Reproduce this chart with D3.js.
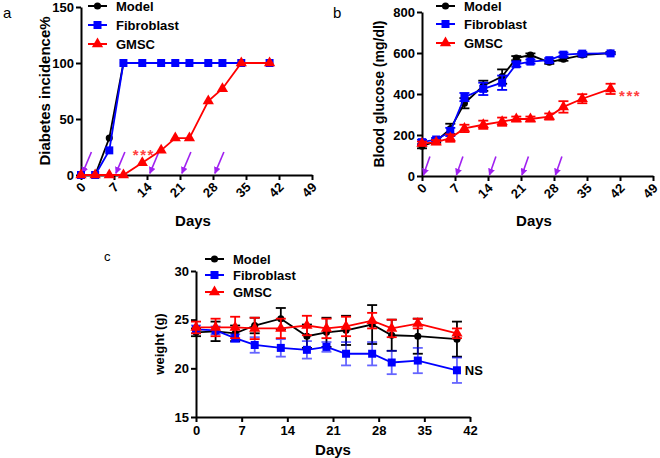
<!DOCTYPE html>
<html><head><meta charset="utf-8">
<script src="https://cdn.jsdelivr.net/npm/d3@7"></script>
<style>body{margin:0;background:#fff}svg{display:block;font-family:"Liberation Sans",Arial,sans-serif;font-weight:bold}</style>
</head><body><svg id="c" width="660" height="458"></svg>
<script>
const series = ["Model","Fibroblast","GMSC"];
const colors = ["#000000","#0000ff","#ff0000"];
const days = [0,3,6,9,13,17,20,23,27,30,34,40];
const xTicksAB = [0,7,14,21,28,35,42,49];
const xTicksC = [0,7,14,21,28,35,42];
// panel a: diabetes incidence %
const incModel = [0,0,33,100,100,100,100,100,100,100,100,100];
const incFibro = [0,0,22,100,100,100,100,100,100,100,100,100];
const incGMSC  = [0,0,0,0,11,22,33,33,66,77,100,100];
const yTicksA = [0,50,100,150];
// panel b: blood glucose
const bgModel = [145,170,230,355,440,485,575,590,555,570,590,600];
const bgModelErr = [10,8,25,25,25,35,10,8,8,8,8,5];
const bgFibro = [165,178,215,385,425,455,545,558,565,592,597,598];
const bgFibroErr = [12,8,20,20,30,35,12,10,10,10,8,5];
const bgGMSC = [158,165,185,232,250,265,278,278,290,337,377,425];
const bgGMSCErr = [10,10,18,18,20,20,12,12,15,28,22,25];
const yTicksB = [0,200,400,600,800];
// panel c: weight
const wModel = [23.7,23.8,23.6,24.4,25.1,23.3,23.7,23.9,24.5,23.4,23.3,23.0];
const wModelErr = [0.4,1.0,0.8,0.8,1.1,1.2,1.5,1.5,2.0,1.6,1.8,1.8];
const wFibro = [24.0,23.9,23.1,22.4,22.1,21.9,22.2,21.5,21.5,20.6,20.8,19.8];
const wFibroErr = [0.4,0.4,0.4,0.8,0.9,0.9,0.5,1.2,1.2,1.2,1.3,1.3];
const wGMSC = [24.2,24.2,24.2,24.1,24.1,24.4,24.1,24.3,24.9,24.1,24.6,23.6];
const wGMSCErr = [0.6,0.9,1.1,1.1,1.0,1.0,1.0,1.0,0.8,0.9,0.5,0.5];
const yTicksC = [15,20,25,30];
// treatment arrows (tip day)
const arrowDaysA = [0.3,7.4,14.6,21.4,28.4];
const arrowDaysB = [0.3,7.3,14.3,21.2,28.3];

const svg = d3.select("#c");
const purple = "#a020f0";
svg.append("defs").append("marker").attr("id","ah").attr("viewBox","0 0 10 10")
  .attr("refX",9).attr("refY",5).attr("markerWidth",7).attr("markerHeight",7)
  .attr("markerUnits","userSpaceOnUse").attr("orient","auto")
  .append("path").attr("d","M0,0L10,5L0,10z").attr("fill",purple);

function symbolFor(i){
  return i===0 ? d3.symbol(d3.symbolCircle,40) : i===1 ? d3.symbol(d3.symbolSquare,64) : d3.symbol(d3.symbolTriangle,55);
}

function axes(g, x, y, xt, yt, rotate, fs){
  const ax = g.append("g").attr("transform",`translate(0,${y.range()[0]})`)
    .call(d3.axisBottom(x).tickValues(xt).tickSize(5).tickSizeOuter(0));
  const ay = g.append("g").attr("transform",`translate(${x.range()[0]},0)`)
    .call(d3.axisLeft(y).tickValues(yt).tickSize(5).tickSizeOuter(0));
  [ax,ay].forEach(a=>{a.select(".domain").attr("stroke","#000").attr("stroke-width",2);
    a.selectAll(".tick line").attr("stroke","#000").attr("stroke-width",2);
    a.selectAll("text").attr("font-size",fs).attr("font-weight","bold").attr("fill","#000")
      .attr("font-family","Liberation Sans, Arial, sans-serif");});
  ay.selectAll("text").attr("x",-7);
  if(rotate){
    ax.selectAll("text").attr("text-anchor","end").attr("dy",0).attr("y",0)
      .attr("transform","translate(5,13) rotate(-45)");
  } else {
    ax.selectAll("text").attr("y",9);
  }
}

function drawSeries(g, x, y, vals, errs, idx, errOpacity){
  const c = colors[idx];
  const pts = days.map((d,i)=>({d, v:vals[i], e: errs? errs[i]:0}));
  if(errs){
    const eg = g.append("g").attr("stroke",c).attr("stroke-width",1.8).attr("opacity",errOpacity||1);
    pts.forEach(p=>{
      const xx = x(p.d);
      eg.append("line").attr("x1",xx).attr("x2",xx).attr("y1",y(p.v-p.e)).attr("y2",y(p.v+p.e));
      eg.append("line").attr("x1",xx-5).attr("x2",xx+5).attr("y1",y(p.v-p.e)).attr("y2",y(p.v-p.e));
      eg.append("line").attr("x1",xx-5).attr("x2",xx+5).attr("y1",y(p.v+p.e)).attr("y2",y(p.v+p.e));
    });
  }
  g.append("path").datum(pts).attr("fill","none").attr("stroke",c).attr("stroke-width",1.8)
    .attr("d",d3.line().x(p=>x(p.d)).y(p=>y(p.v)));
  g.append("g").selectAll("path").data(pts).join("path")
    .attr("transform",p=>`translate(${x(p.d)},${y(p.v)})`).attr("d",symbolFor(idx)).attr("fill",c);
}

function legend(g, x0, ys, fs){
  series.forEach((s,i)=>{
    g.append("line").attr("x1",x0).attr("x2",x0+19).attr("y1",ys[i]).attr("y2",ys[i])
      .attr("stroke",colors[i]).attr("stroke-width",2);
    g.append("path").attr("transform",`translate(${x0+9.5},${ys[i]})`).attr("d",symbolFor(i)).attr("fill",colors[i]);
    g.append("text").attr("x",x0+28).attr("y",ys[i]).attr("dy","0.35em").attr("font-size",fs).text(s);
  });
}

function arrows(g, x, y, tips, tipV, tailV, dxPx){
  tips.forEach(t=>{
    g.append("line").attr("x1",x(t)+dxPx).attr("y1",y(tailV)).attr("x2",x(t)).attr("y2",y(tipV))
      .attr("stroke",purple).attr("stroke-width",1.6).attr("marker-end","url(#ah)");
  });
}

// ---------- panel a ----------
const ga = svg.append("g");
const xA = d3.scaleLinear().domain([0,49]).range([81,312]);
const yA = d3.scaleLinear().domain([0,150]).range([175,7]);
axes(ga,xA,yA,xTicksAB,yTicksA,true,13);
arrows(ga,xA,yA,arrowDaysA,1.5,20.5,9);
[incModel,incFibro,incGMSC].forEach((v,i)=>drawSeries(ga,xA,yA,v,null,i));
legend(ga,88,[6,25,44],13);
ga.append("text").attr("x",xA(11)).attr("y",yA(23)).attr("dy","0.7em").attr("fill","#ff4040").attr("font-size",15).attr("letter-spacing",1.5).text("***");
ga.append("text").attr("x",3).attr("y",18).attr("font-size",15).attr("font-weight","normal").text("a");
ga.append("text").attr("transform",`translate(50,${(7+175)/2}) rotate(-90)`).attr("text-anchor","middle").attr("font-size",15).text("Diabetes incidence%");
ga.append("text").attr("x",193).attr("y",226).attr("text-anchor","middle").attr("font-size",15).text("Days");

// ---------- panel b ----------
const gb = svg.append("g");
const xB = d3.scaleLinear().domain([0,49]).range([422,653]);
const yB = d3.scaleLinear().domain([0,800]).range([176,12]);
axes(gb,xB,yB,xTicksAB,yTicksB,true,13);
arrows(gb,xB,yB,arrowDaysB,5,95,6.5);
drawSeries(gb,xB,yB,bgModel,bgModelErr,0);
drawSeries(gb,xB,yB,bgFibro,bgFibroErr,1);
drawSeries(gb,xB,yB,bgGMSC,bgGMSCErr,2);
legend(gb,436,[6,24,43],13);
gb.append("text").attr("x",xB(41.8)).attr("y",yB(415)).attr("dy","0.7em").attr("fill","#ff4040").attr("font-size",15).attr("letter-spacing",1.5).text("***");
gb.append("text").attr("x",333).attr("y",18).attr("font-size",15).attr("font-weight","normal").text("b");
gb.append("text").attr("transform",`translate(384,${(12+176)/2}) rotate(-90)`).attr("text-anchor","middle").attr("font-size",14).text("Blood glucose (mg/dl)");
gb.append("text").attr("x",534).attr("y",226).attr("text-anchor","middle").attr("font-size",15).text("Days");

// ---------- panel c ----------
const gc = svg.append("g");
const xC = d3.scaleLinear().domain([0,42]).range([196,470]);
const yC = d3.scaleLinear().domain([15,30]).range([417,271]);
axes(gc,xC,yC,xTicksC,yTicksC,false,13);
drawSeries(gc,xC,yC,wModel,wModelErr,0);
drawSeries(gc,xC,yC,wFibro,wFibroErr,1,0.6);
drawSeries(gc,xC,yC,wGMSC,wGMSCErr,2);
legend(gc,205,[259,275,292],13);
gc.append("text").attr("x",xC(41.2)).attr("y",yC(19.8)).attr("dy","0.35em").attr("font-size",13).text("NS");
gc.append("text").attr("x",104).attr("y",261).attr("font-size",13).attr("font-weight","normal").text("c");
gc.append("text").attr("transform",`translate(164,${(271+417)/2}) rotate(-90)`).attr("text-anchor","middle").attr("font-size",13).text("weight (g)");
gc.append("text").attr("x",333).attr("y",455).attr("text-anchor","middle").attr("font-size",15).text("Days");
</script></body></html>
